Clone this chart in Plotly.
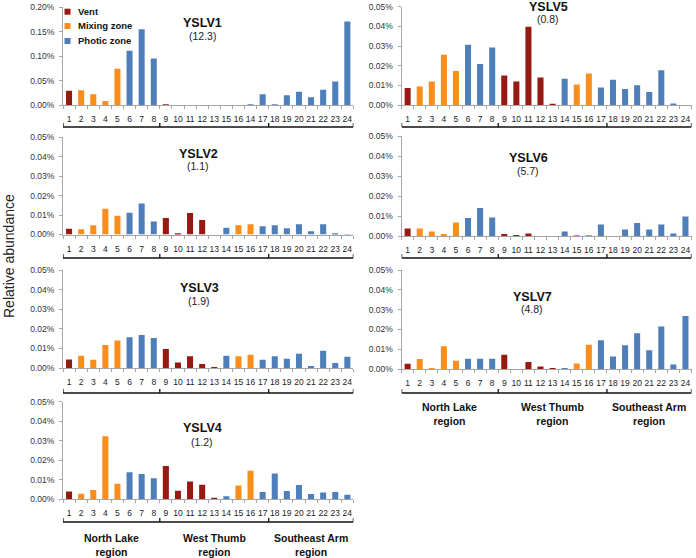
import plotly.graph_objects as go

W, H = 696, 558
FONT = "Liberation Sans, Arial, sans-serif"

# ---------------- data ----------------
sample_labels = [str(i) for i in range(1, 25)]
yslv1_labels = ["1", "2", "3", "4", "5", "6", "7", "8", "9", "10", "11", "12",
                "13", "15", "16", "14", "17", "18", "19", "20", "21", "22", "23", "24"]

vent_samples = [1, 9, 10, 11, 12, 13]
mixing_samples = [2, 3, 4, 5, 15, 16]
photic_samples = [6, 7, 8, 14, 17, 18, 19, 20, 21, 22, 23, 24]

zone_names = ["Vent", "Mixing zone", "Photic zone"]
region_names = ["North Lake<br>region", "West Thumb<br>region", "Southeast Arm<br>region"]

yslv1 = [0.029, 0.030, 0.022, 0.008, 0.074, 0.111, 0.155, 0.095, 0.001, 0.0, 0.0, 0.0,
         0.0, 0.0, 0.0, 0.001, 0.022, 0.001, 0.020, 0.027, 0.016, 0.031, 0.048, 0.171]
yslv2 = [0.0030, 0.0027, 0.0047, 0.0133, 0.0097, 0.0112, 0.0160, 0.0067, 0.0085, 0.0005, 0.0110, 0.0075,
         0.0000, 0.0035, 0.0047, 0.0053, 0.0042, 0.0048, 0.0032, 0.0053, 0.0017, 0.0053, 0.0002, 0.0001]
yslv3 = [0.0043, 0.0062, 0.0042, 0.0117, 0.0140, 0.0157, 0.0168, 0.0153, 0.0097, 0.0028, 0.0060, 0.0020,
         0.0003, 0.0063, 0.0060, 0.0067, 0.0042, 0.0060, 0.0047, 0.0073, 0.0007, 0.0088, 0.0025, 0.0057]
yslv4 = [0.0039, 0.0027, 0.0046, 0.0322, 0.0078, 0.0138, 0.0128, 0.0107, 0.0170, 0.0043, 0.0090, 0.0073,
         0.0005, 0.0014, 0.0070, 0.0145, 0.0036, 0.0131, 0.0041, 0.0072, 0.0026, 0.0034, 0.0036, 0.0022]
yslv5 = [0.0087, 0.0094, 0.0120, 0.0255, 0.0173, 0.0306, 0.0208, 0.0292, 0.0150, 0.0119, 0.0398, 0.0140,
         0.0002, 0.0134, 0.0104, 0.0160, 0.0089, 0.0129, 0.0082, 0.0101, 0.0066, 0.0177, 0.0007, 0.0000]
yslv6 = [0.0037, 0.0037, 0.0022, 0.0008, 0.0068, 0.0090, 0.0140, 0.0092, 0.0010, 0.0003, 0.0012, 0.0000,
         0.0000, 0.0022, 0.0003, 0.0005, 0.0058, 0.0000, 0.0033, 0.0065, 0.0033, 0.0057, 0.0012, 0.0097]
yslv7 = [0.0027, 0.0050, 0.0003, 0.0115, 0.0042, 0.0052, 0.0052, 0.0052, 0.0072, 0.0000, 0.0035, 0.0013,
         0.0005, 0.0005, 0.0028, 0.0122, 0.0145, 0.0063, 0.0120, 0.0180, 0.0095, 0.0215, 0.0023, 0.0268]

y_ticks_small = [0.0, 0.01, 0.02, 0.03, 0.04, 0.05]
y_ticks_large = [0.0, 0.05, 0.10, 0.15, 0.20]

# ---------------- styling ----------------
C_VENT = "#961a12"
C_MIX = "#f98e1d"
C_PHOT = "#4f7fba"
AXC = "#a6a6a6"


def zone_color(label):
    s = int(label)
    if s in vent_samples:
        return C_VENT
    if s in mixing_samples:
        return C_MIX
    return C_PHOT


def px(x):
    return x / W


def py(y):
    return 1 - y / H


LEFT = (63, 353.4)
RIGHT = (401.6, 691.5)

panels = [
    dict(name="YSLV1", sub="(12.3)", labels=yslv1_labels, vals=yslv1, ticks=y_ticks_large,
         col=LEFT, top=7.3, bot=105, title=(202, 23, 36), br=127),
    dict(name="YSLV2", sub="(1.1)", labels=sample_labels, vals=yslv2, ticks=y_ticks_small,
         col=LEFT, top=137.3, bot=234.5, title=(198, 154, 166), br=258),
    dict(name="YSLV3", sub="(1.9)", labels=sample_labels, vals=yslv3, ticks=y_ticks_small,
         col=LEFT, top=270, bot=368, title=(199, 288, 301), br=393),
    dict(name="YSLV4", sub="(1.2)", labels=sample_labels, vals=yslv4, ticks=y_ticks_small,
         col=LEFT, top=401.7, bot=499, title=(202, 428, 442), br=522, regions=545),
    dict(name="YSLV5", sub="(0.8)", labels=sample_labels, vals=yslv5, ticks=y_ticks_small,
         col=RIGHT, top=6.7, bot=105, title=(548, 7, 19), br=127),
    dict(name="YSLV6", sub="(5.7)", labels=sample_labels, vals=yslv6, ticks=y_ticks_small,
         col=RIGHT, top=136, bot=236, title=(528, 158, 171), br=258),
    dict(name="YSLV7", sub="(4.8)", labels=sample_labels, vals=yslv7, ticks=y_ticks_small,
         col=RIGHT, top=270, bot=369, title=(532, 297, 309), br=393, regions=414),
]

fig = go.Figure()
layout = dict(
    template="none",
    width=W, height=H,
    margin=dict(l=0, r=0, t=0, b=0, autoexpand=False),
    paper_bgcolor="white", plot_bgcolor="white",
    showlegend=False, bargap=0.5,
    font=dict(family=FONT, color="#222222"),
)
shapes = []
annotations = []

for i, p in enumerate(panels):
    n = i + 1
    xa = "x" if n == 1 else f"x{n}"
    ya = "y" if n == 1 else f"y{n}"
    fig.add_trace(go.Bar(
        x=p["labels"], y=p["vals"], xaxis=xa, yaxis=ya,
        marker=dict(color=[zone_color(l) for l in p["labels"]], line=dict(width=0)),
        hoverinfo="x+y",
    ))
    xkey = "xaxis" if n == 1 else f"xaxis{n}"
    ykey = "yaxis" if n == 1 else f"yaxis{n}"
    layout[xkey] = dict(
        domain=[px(p["col"][0]), px(p["col"][1])], anchor=ya, automargin=False,
        type="category", categoryorder="array", categoryarray=p["labels"],
        range=[-0.5, len(p["labels"]) - 0.5],
        showline=True, linecolor=AXC, linewidth=1,
        ticks="outside", tickson="boundaries", ticklen=3, tickcolor=AXC, tickwidth=1,
        tickangle=0, ticklabelstandoff=6,
        tickfont=dict(size=8.5, color="#222222", family=FONT),
        showgrid=False, zeroline=False, fixedrange=True,
    )
    layout[ykey] = dict(
        domain=[py(p["bot"]), py(p["top"])], anchor=xa, automargin=False,
        range=[0, p["ticks"][-1]],
        tickmode="array", tickvals=p["ticks"],
        ticktext=[f"{t:.2f}%" for t in p["ticks"]],
        showline=True, linecolor=AXC, linewidth=1,
        ticks="outside", ticklen=3, tickcolor=AXC, tickwidth=1,
        ticklabelstandoff=3,
        tickfont=dict(size=8.5, color="#333333", family=FONT),
        showgrid=False, zeroline=False, fixedrange=True,
    )
    # panel titles
    tx, ty1, ty2 = p["title"]
    annotations.append(dict(xref="paper", yref="paper", x=px(tx), y=py(ty1),
                            text=f"<b>{p['name']}</b>", showarrow=False,
                            xanchor="center", yanchor="middle",
                            font=dict(size=12.5, color="#111111", family=FONT)))
    annotations.append(dict(xref="paper", yref="paper", x=px(tx), y=py(ty2),
                            text=p["sub"], showarrow=False,
                            xanchor="center", yanchor="middle",
                            font=dict(size=10.5, color="#222222", family=FONT)))
    # region bracket
    ybr = py(p["br"])
    ytk = py(p["br"] - 4)
    path = f"M -0.5,{ybr} L 23.5,{ybr}"
    for b in (-0.5, 7.5, 16.5, 23.5):
        path += f" M {b},{ybr} L {b},{ytk}"
    shapes.append(dict(type="path", xref=xa, yref="paper", path=path,
                       line=dict(color="#111111", width=1.3)))
    if "regions" in p:
        for rx, rn in zip((3.5, 12, 20), region_names):
            annotations.append(dict(xref=xa, yref="paper", x=rx, y=py(p["regions"]),
                                    text=f"<b>{rn}</b>", showarrow=False,
                                    xanchor="center", yanchor="middle",
                                    font=dict(size=10.5, color="#111111", family=FONT)))

# legend (inside YSLV1)
for (yc, name, col) in zip((11.7, 26, 41), zone_names, (C_VENT, C_MIX, C_PHOT)):
    shapes.append(dict(type="rect", xref="paper", yref="paper",
                       x0=px(64.5), x1=px(70.5), y0=py(yc + 3), y1=py(yc - 3),
                       fillcolor=col, line=dict(width=0)))
    annotations.append(dict(xref="paper", yref="paper", x=px(75.5), y=py(yc),
                            text=f"<b>{name}</b>", showarrow=False,
                            xanchor="left", yanchor="middle",
                            font=dict(size=9.5, color="#111111", family=FONT)))

# y axis title
annotations.append(dict(xref="paper", yref="paper", x=px(9), y=py(256),
                        text="Relative abundance", showarrow=False, textangle=-90,
                        xanchor="center", yanchor="middle",
                        font=dict(size=14, color="#222222", family=FONT)))

layout["shapes"] = shapes
layout["annotations"] = annotations
fig.update_layout(**layout)
fig.write_html(
    "out.html",
    config={"displayModeBar": False},
    post_script="document.body.style.margin='0';document.body.style.overflow='hidden';",
)
